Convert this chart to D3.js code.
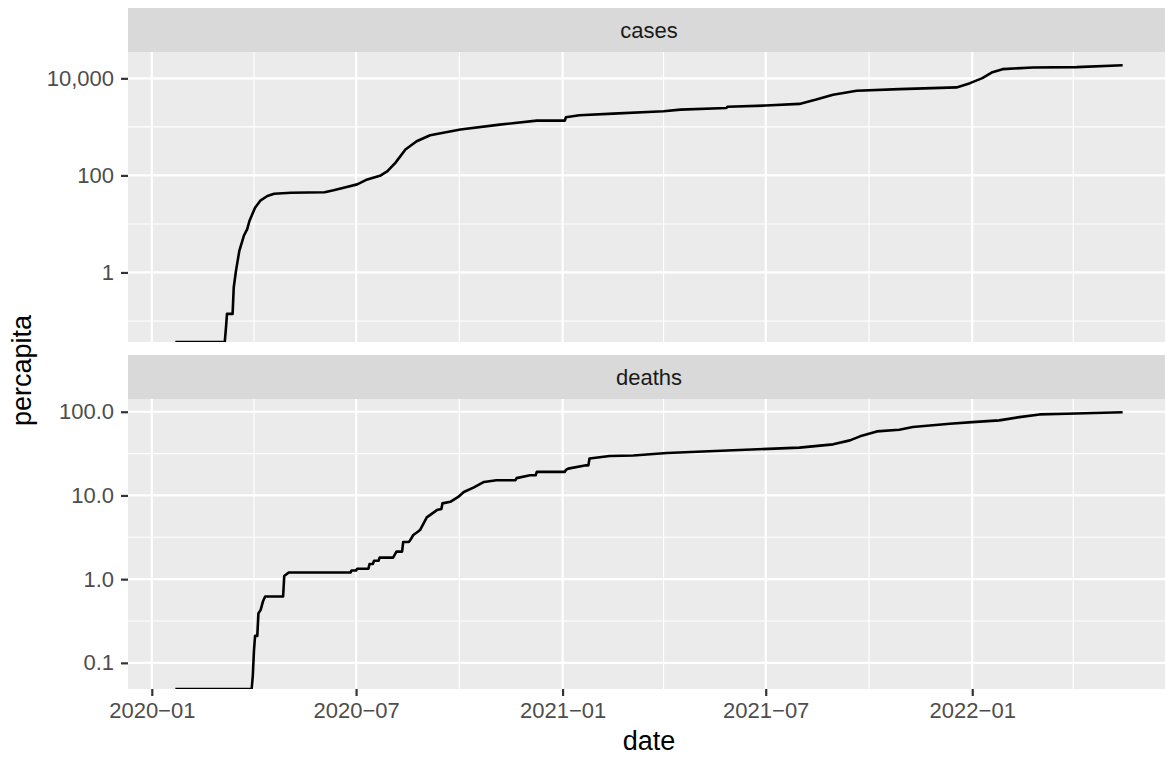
<!DOCTYPE html>
<html>
<head>
<meta charset="utf-8">
<script src="https://cdn.jsdelivr.net/npm/d3@7"></script>
<style>
    body { margin: 0; background: #ffffff; }
    text { font-family: "Liberation Sans", Arial, Helvetica, sans-serif; }
</style>
</head>
<body>
<div id="chart"></div>
<script>
// cumulative cases per capita (per 100k)
const caseDates = ["2020-01-22", "2020-03-06", "2020-03-07", "2020-03-08", "2020-03-13", "2020-03-14",
    "2020-03-16", "2020-03-19", "2020-03-23", "2020-03-26", "2020-03-28", "2020-04-02", "2020-04-07",
    "2020-04-13", "2020-04-19", "2020-05-04", "2020-06-03", "2020-06-11", "2020-06-20", "2020-07-02",
    "2020-07-11", "2020-07-23", "2020-07-29", "2020-08-05", "2020-08-14", "2020-08-24", "2020-09-05",
    "2020-10-02", "2020-11-06", "2020-12-09", "2021-01-03", "2021-01-04", "2021-01-16", "2021-02-15",
    "2021-04-01", "2021-04-16", "2021-05-27", "2021-05-28", "2021-07-01", "2021-07-31", "2021-08-15",
    "2021-08-30", "2021-09-20", "2021-10-28", "2021-12-18", "2021-12-30", "2022-01-10", "2022-01-19",
    "2022-01-28", "2022-02-24", "2022-04-04", "2022-05-15"];
const caseValues = [0, 0, 0.069, 0.14, 0.14, 0.49,
    1.08, 2.8, 5.7, 7.8, 11.5, 21.6, 30.7,
    37.6, 41.9, 43.9, 44.8, 49.2, 55.6, 65.3,
    82.7, 100, 122, 181, 342, 506, 673,
    881, 1114, 1346, 1346, 1575, 1730, 1875,
    2090, 2265, 2445, 2600, 2750, 2970, 3650,
    4600, 5560, 6000, 6500, 7960, 10090, 13400,
    15450, 16750, 17000, 18660];

// cumulative deaths per capita (per 100k)
const deathDates = ["2020-01-22", "2020-03-30", "2020-03-31", "2020-04-01", "2020-04-02", "2020-04-04",
    "2020-04-05", "2020-04-07", "2020-04-09", "2020-04-11", "2020-04-27", "2020-04-28", "2020-05-02",
    "2020-06-26", "2020-06-27", "2020-07-01", "2020-07-02", "2020-07-12", "2020-07-13", "2020-07-16",
    "2020-07-17", "2020-07-21", "2020-07-22", "2020-08-03", "2020-08-06", "2020-08-11", "2020-08-12",
    "2020-08-17", "2020-08-18", "2020-08-21", "2020-08-25", "2020-08-27", "2020-09-02", "2020-09-11",
    "2020-09-15", "2020-09-16", "2020-09-23", "2020-09-30", "2020-10-05", "2020-10-14", "2020-10-23",
    "2020-11-03", "2020-11-20", "2020-11-21", "2020-12-03", "2020-12-08", "2020-12-09", "2021-01-03",
    "2021-01-04", "2021-01-06", "2021-01-22", "2021-01-24", "2021-01-25", "2021-02-12", "2021-03-05",
    "2021-04-04", "2021-06-02", "2021-07-31", "2021-08-30", "2021-09-14", "2021-09-23", "2021-10-08",
    "2021-10-28", "2021-11-09", "2021-12-12", "2022-01-01", "2022-01-25", "2022-02-12", "2022-03-02",
    "2022-03-26", "2022-05-15"];
const deathValues = [0, 0, 0.07, 0.137, 0.21, 0.21,
    0.39, 0.43, 0.54, 0.62, 0.62, 1.09, 1.2,
    1.2, 1.27, 1.27, 1.33, 1.33, 1.52, 1.52,
    1.66, 1.66, 1.81, 1.81, 2.13, 2.13, 2.78,
    2.78, 2.88, 3.37, 3.68, 3.86, 5.47, 6.68,
    6.9, 8.04, 8.4, 9.6, 11.0, 12.5, 14.5,
    15.2, 15.2, 16.1, 17.4, 17.4, 19.1, 19.1,
    20.2, 20.9, 22.9, 22.9, 27.6, 29.6, 30,
    32.1, 34.6, 37.3, 40.8, 45.5, 50.8, 58.2,
    61, 65.6, 72, 75.2, 78.8, 86.3, 92.9,
    94.6, 98.8];

const facetNames = ["cases", "deaths"];

// axis breaks
const xBreaks = ["2020-01-01", "2020-07-01", "2021-01-01", "2021-07-01", "2022-01-01"];
const xMinorBreaks = ["2020-04-01", "2020-10-01", "2021-04-01", "2021-10-01", "2022-04-01"];
const caseBreaks = [1, 100, 10000];
const caseMinorBreaks = [0.1, 10, 1000];
const deathBreaks = [0.1, 1, 10, 100];
const deathMinorBreaks = [0.3162, 3.162, 31.62];

(function() {

    let width = 1165,
        height = 757;
    let margin = {top: 8, left: 128, right: -5};
    let stripH = 44,
        panelH = 290,
        gap = 13;
    let panelW = width - margin.left - margin.right;

    let parse = d3.utcParse("%Y-%m-%d");

    let svg = d3.select("#chart")
        .append("svg")
        .attr("width", width)
        .attr("height", height);

    let caseData = caseDates.map((d, i) => ({date: parse(d), value: caseValues[i]}));
    let deathData = deathDates.map((d, i) => ({date: parse(d), value: deathValues[i]}));

    // x scale: data range with ggplot's 5% expansion
    let xExt = d3.extent(caseData.concat(deathData), d => d.date);
    let xPad = (xExt[1] - xExt[0]) * 0.05;
    let x = d3.scaleUtc()
        .domain([new Date(+xExt[0] - xPad), new Date(+xExt[1] + xPad)])
        .range([0, panelW]);

    // log domain over positive values, expanded 5% in log space
    function logDomain(data) {
        let pos = data.filter(d => d.value > 0).map(d => Math.log10(d.value));
        let lo = d3.min(pos), hi = d3.max(pos);
        let pad = (hi - lo) * 0.05;
        return [Math.pow(10, lo - pad), Math.pow(10, hi + pad)];
    }

    let panels = [
        {name: facetNames[0], data: caseData, breaks: caseBreaks, minor: caseMinorBreaks, fmt: d3.format(",")},
        {name: facetNames[1], data: deathData, breaks: deathBreaks, minor: deathMinorBreaks, fmt: d3.format(".1f")}
    ];

    panels.forEach(function(p, i) {
        let top = margin.top + i * (stripH + panelH + gap);
        let y = d3.scaleLog().domain(logDomain(p.data)).range([panelH, 0]);

        // strip
        svg.append("rect")
            .attr("x", margin.left).attr("y", top)
            .attr("width", panelW).attr("height", stripH)
            .attr("fill", "#d9d9d9");
        svg.append("text")
            .attr("x", margin.left + panelW / 2)
            .attr("y", top + stripH / 2 + 8)
            .attr("text-anchor", "middle")
            .attr("fill", "#1a1a1a")
            .style("font-size", "22px")
            .text(p.name);

        let g = svg.append("g")
            .attr("transform", `translate(${margin.left}, ${top + stripH})`);

        g.append("rect")
            .attr("width", panelW).attr("height", panelH)
            .attr("fill", "#ebebeb");

        // minor grid
        g.selectAll(".hminor").data(p.minor).enter().append("line")
            .attr("x1", 0).attr("x2", panelW)
            .attr("y1", d => y(d)).attr("y2", d => y(d))
            .attr("stroke", "#ffffff").attr("stroke-width", 1.1);
        g.selectAll(".vminor").data(xMinorBreaks.map(parse)).enter().append("line")
            .attr("y1", 0).attr("y2", panelH)
            .attr("x1", d => x(d)).attr("x2", d => x(d))
            .attr("stroke", "#ffffff").attr("stroke-width", 1.1);

        // major grid
        g.selectAll(".hmajor").data(p.breaks).enter().append("line")
            .attr("x1", 0).attr("x2", panelW)
            .attr("y1", d => y(d)).attr("y2", d => y(d))
            .attr("stroke", "#ffffff").attr("stroke-width", 2.2);
        g.selectAll(".vmajor").data(xBreaks.map(parse)).enter().append("line")
            .attr("y1", 0).attr("y2", panelH)
            .attr("x1", d => x(d)).attr("x2", d => x(d))
            .attr("stroke", "#ffffff").attr("stroke-width", 2.2);

        // line; zero counts sit on the panel floor like ggplot's -Inf
        g.append("clipPath").attr("id", "clip" + i)
            .append("rect").attr("width", panelW).attr("height", panelH);
        let line = d3.line()
            .x(d => x(d.date))
            .y(d => d.value > 0 ? y(d.value) : panelH);
        g.append("path")
            .datum(p.data)
            .attr("clip-path", `url(#clip${i})`)
            .attr("fill", "none")
            .attr("stroke", "#000000")
            .attr("stroke-width", 2.6)
            .attr("stroke-linejoin", "round")
            .attr("d", line);

        // y axis
        let yAxis = g.append("g")
            .call(d3.axisLeft(y).tickValues(p.breaks).tickFormat(p.fmt).tickSize(7).tickPadding(7));
        yAxis.select(".domain").remove();
        yAxis.selectAll("line").attr("stroke", "#333333").attr("stroke-width", 2.2);
        yAxis.selectAll("text")
            .attr("fill", "#4d4d4d")
            .style("font-size", "22px")
            .style("font-family", "'Liberation Sans', Arial, Helvetica, sans-serif");

        // x axis only under the last panel
        if (i === panels.length - 1) {
            let xAxis = g.append("g")
                .attr("transform", `translate(0, ${panelH})`)
                .call(d3.axisBottom(x).tickValues(xBreaks.map(parse))
                    .tickFormat(d => d3.utcFormat("%Y-%m")(d).replace("-", "\u2212"))
                    .tickSize(7).tickPadding(6));
            xAxis.select(".domain").remove();
            xAxis.selectAll("line").attr("stroke", "#333333").attr("stroke-width", 2.2);
            xAxis.selectAll("text")
                .attr("fill", "#4d4d4d")
                .style("font-size", "22px")
                .style("font-family", "'Liberation Sans', Arial, Helvetica, sans-serif");
        }
    });

    let panelTop = margin.top + stripH;
    let panelBottom = margin.top + 2 * (stripH + panelH) + gap;

    // axis titles
    svg.append("text")
        .attr("x", margin.left + panelW / 2)
        .attr("y", 750)
        .attr("text-anchor", "middle")
        .style("font-size", "27px")
        .text("date");

    svg.append("text")
        .attr("transform", `translate(31, ${(panelTop + panelBottom) / 2}) rotate(-90)`)
        .attr("text-anchor", "middle")
        .style("font-size", "27px")
        .text("percapita");

})();
</script>
</body>
</html>
